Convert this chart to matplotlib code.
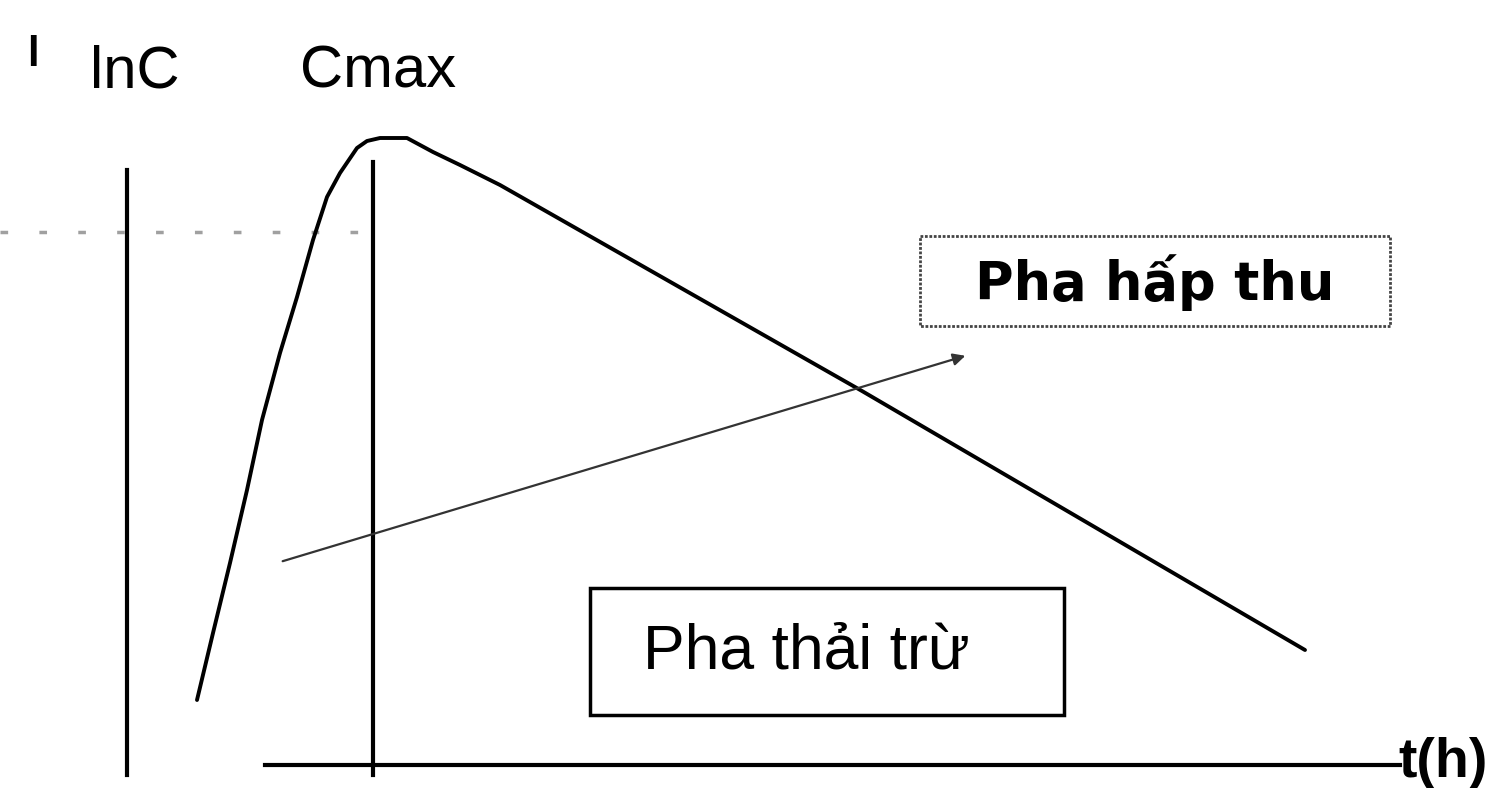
import matplotlib.pyplot as plt
from matplotlib.patches import Rectangle

# Curve of ln C against time (drawing units, y grows downward)
curve_t = [197, 213, 230, 247, 262, 280, 297, 313, 327, 340, 357, 367, 380,
           407, 433, 460, 500, 862, 1305]
curve_lnC = [700, 633, 563, 490, 420, 353, 297, 240, 197, 173, 148, 141, 138,
             138, 152, 165, 185, 391, 650]

# Labels
label_y = "lnC"
label_peak = "Cmax"
label_x = "t(h)"
label_absorb = "Pha hấp thu"
label_elim = "Pha thải trừ"

fig = plt.figure(figsize=(15.03, 7.88), dpi=100)
ax = fig.add_axes([0, 0, 1, 1])
ax.set_xlim(0, 1503)
ax.set_ylim(788, 0)
ax.axis("off")

# Axes of the diagram
ax.plot([127, 127], [170, 775], color="black", lw=3)
ax.plot([265, 1400], [765, 765], color="black", lw=3)
ax.plot([373, 373], [162, 775], color="black", lw=3)

# Dotted Cmax level
ax.plot([0, 378], [232, 232], color="#a0a0a0", lw=2.5,
        linestyle=(0, (2.2, 9)))

# Concentration curve
ax.plot(curve_t, curve_lnC, color="black", lw=2.8,
        solid_capstyle="round", solid_joinstyle="round")

# Arrow
ax.annotate("", xy=(968, 355), xytext=(280, 562),
            arrowprops=dict(arrowstyle="-|>", color="#333333", lw=1.6,
                            mutation_scale=18))

# Boxes
ax.add_patch(Rectangle((920, 236), 470, 90, fill=False, edgecolor="#444444",
                       lw=2, linestyle=(0, (1, 0.6))))
ax.text(1155, 283, label_absorb, ha="center", va="center",
        fontsize=38, fontweight="bold", family="DejaVu Sans")

ax.add_patch(Rectangle((590, 588), 474, 127, fill=False, edgecolor="black", lw=2.5))
ax.text(806, 652, label_elim, ha="center", va="center",
        fontsize=45, family="Liberation Sans")

# Axis labels
ax.text(135, 72, label_y, ha="center", va="center", fontsize=43, family="Liberation Sans")
ax.text(378, 72, label_peak, ha="center", va="center", fontsize=43, family="Liberation Sans")
ax.text(33, 55, "l", ha="center", va="center", fontsize=30, fontweight="bold",
        family="Liberation Sans")
ax.text(1443, 763, label_x, ha="center", va="center", fontsize=40, fontweight="bold",
        family="Liberation Sans")

fig.savefig("out.png", dpi=100)
